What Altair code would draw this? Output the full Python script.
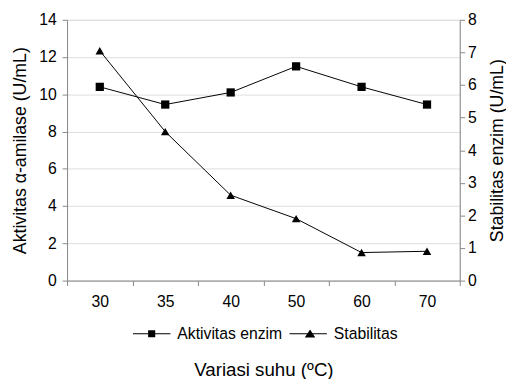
import altair as alt
import pandas as pd

suhu = ["30", "35", "40", "50", "60", "70"]
aktivitas = [10.4, 9.45, 10.1, 11.5, 10.4, 9.45]
stabilitas = [7.05, 4.57, 2.62, 1.9, 0.86, 0.9]
series = ["Aktivitas enzim", "Stabilitas"]

df = pd.DataFrame({"suhu": suhu, "aktivitas": aktivitas, "stabilitas": stabilitas})
leg_df = pd.DataFrame({"s": series})

FONT = "Liberation Sans"

# filled-only legend symbols: a thin bar (the line) plus the marker
path_sq = "M-1,-0.03H1V0.03H-1ZM-0.19,-0.19H0.19V0.19H-0.19Z"
path_tri = "M-1,-0.03H1V0.03H-1ZM0.1,-0.23L0.38,0.2L-0.18,0.2Z"

xenc = alt.X(
    "suhu:N",
    sort=suhu,
    scale=alt.Scale(type="band", paddingInner=0, paddingOuter=0),
    axis=alt.Axis(
        title="Variasi suhu (ºC)",
        labelAngle=0,
        tickBand="extent",
        tickSize=5,
        labelPadding=8,
        titlePadding=52,
        labelFontSize=16,
        titleFontSize=19,
        titleFontWeight="normal",
    ),
)

left = alt.Chart(df).mark_line(
    color="black",
    strokeWidth=1,
    point=alt.OverlayMarkDef(shape="square", size=70, filled=True, color="black", opacity=1),
).encode(
    x=xenc,
    y=alt.Y(
        "aktivitas:Q",
        scale=alt.Scale(domain=[0, 14]),
        axis=alt.Axis(
            orient="left",
            values=list(range(0, 15, 2)),
            title="Aktivitas α-amilase (U/mL)",
            tickSize=5,
            labelPadding=6,
            titlePadding=9,
            labelFontSize=16,
            titleFontSize=18,
            titleFontWeight="normal",
        ),
    ),
)

right = alt.Chart(df).mark_line(
    color="black",
    strokeWidth=1,
    point=alt.OverlayMarkDef(shape="triangle-up", size=75, filled=True, color="black", opacity=1),
).encode(
    x=xenc,
    y=alt.Y(
        "stabilitas:Q",
        scale=alt.Scale(domain=[0, 8]),
        axis=alt.Axis(
            orient="right",
            values=list(range(0, 9)),
            title="Stabilitas enzim  (U/mL)",
            titleAngle=270,
            tickSize=5,
            labelPadding=3,
            titlePadding=31,
            labelFontSize=16,
            titleFontSize=18,
            titleFontWeight="normal",
        ),
    ),
)

legend_layer = alt.Chart(leg_df).transform_filter("false").mark_point(
    filled=True, color="black", opacity=1
).encode(
    shape=alt.Shape(
        "s:N",
        scale=alt.Scale(domain=series, range=[path_sq, path_tri]),
        legend=alt.Legend(
            title=None,
            orient="none",
            legendX=67,
            legendY=300,
            direction="horizontal",
            symbolSize=1444,
            symbolStrokeWidth=0,
            symbolFillColor="black",
            labelFont=FONT,
            labelFontSize=16,
            labelColor="black",
            labelOffset=7,
            columnPadding=7,
            padding=0,
        ),
    )
)

chart = alt.layer(left, right, legend_layer).resolve_scale(y="independent").properties(
    width=399,
    height=265,
    autosize=alt.AutoSizeParams(type="none"),
    padding={"left": 60, "top": 9, "right": 47, "bottom": 97},
).configure_view(stroke=None).configure_axis(
    grid=False,
    domainColor="black",
    tickColor="black",
    labelColor="black",
    titleColor="black",
    labelFont=FONT,
    titleFont=FONT,
    titleFontWeight="normal",
).configure(font=FONT, background="white")

chart.save("out.html", embed_options={"renderer": "svg", "actions": False})
